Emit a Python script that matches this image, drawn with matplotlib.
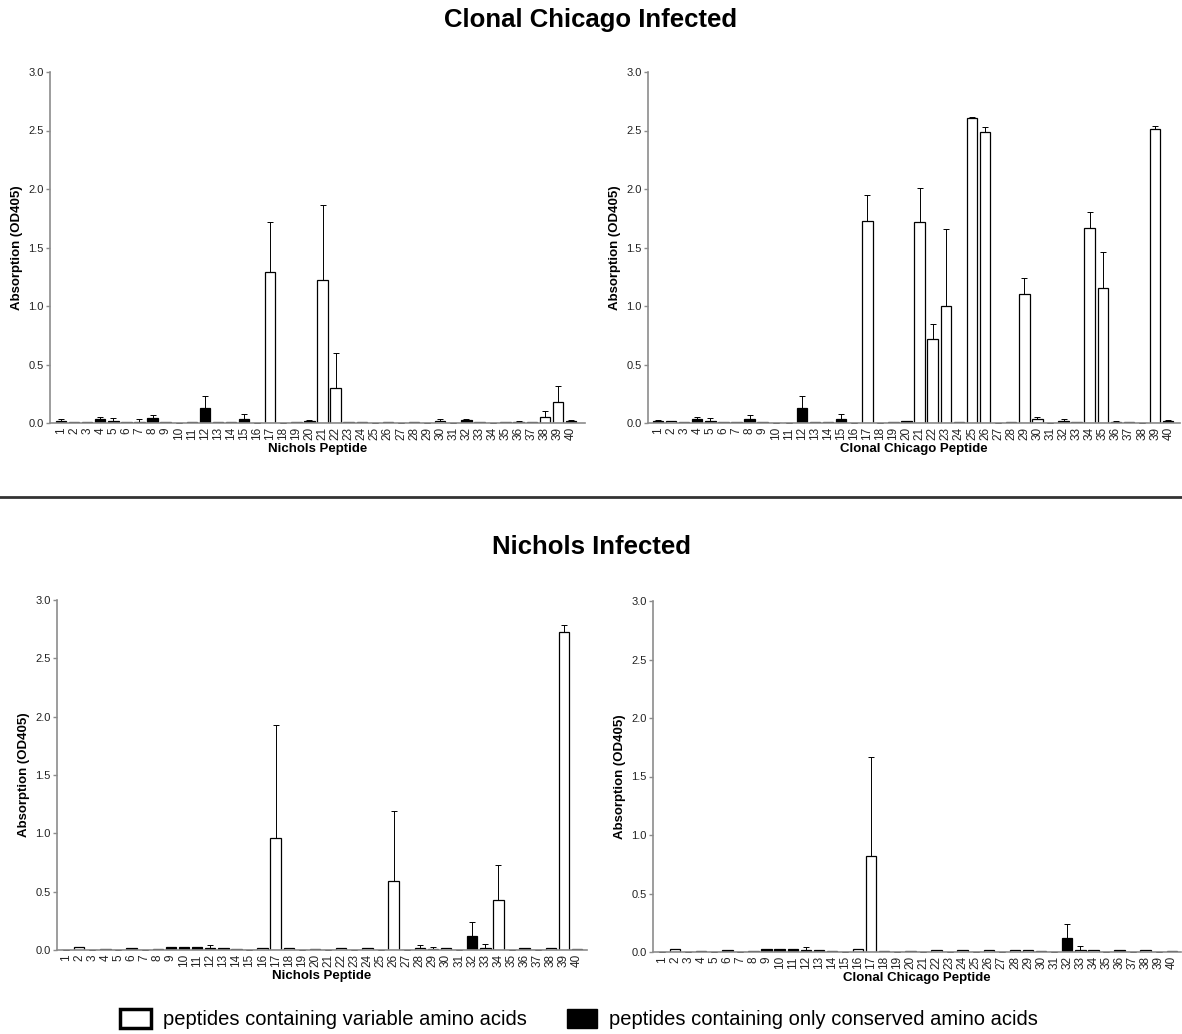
import numpy as np
import matplotlib
matplotlib.use("Agg")
from matplotlib import pyplot as plt
from matplotlib.patches import Patch
from matplotlib.lines import Line2D

plt.rcParams['font.family'] = ['Liberation Sans', 'DejaVu Sans']

peptides = list(range(1, 41))
# peptides containing only conserved amino acids -> black bars
conserved = [1, 3, 4, 5, 6, 8, 9, 10, 11, 12, 13, 14, 15, 19, 20, 32, 36, 37, 40]

# Clonal Chicago infected, Nichols peptides
cc_nic = [0.02, 0.005, 0.005, 0.03, 0.02, 0.01, 0.005, 0.04, 0.005, 0.003,
          0.005, 0.13, 0.01, 0.01, 0.035, 0.003, 1.29, 0.003, 0.01, 0.02,
          1.22, 0.30, 0.005, 0.005, 0.003, 0.005, 0.002, 0.008, 0.003, 0.015,
          0.003, 0.025, 0.008, 0.003, 0.008, 0.01, 0.01, 0.05, 0.18, 0.02]
cc_nic_err = [0.01, 0, 0, 0.02, 0.02, 0, 0.03, 0.03, 0, 0,
              0, 0.10, 0, 0, 0.04, 0, 0.43, 0, 0, 0.005,
              0.64, 0.30, 0.005, 0, 0, 0, 0, 0, 0, 0.015,
              0, 0.01, 0, 0, 0, 0.01, 0, 0.05, 0.14, 0.005]

# Clonal Chicago infected, Clonal Chicago peptides
cc_cc = [0.02, 0.015, 0.005, 0.03, 0.02, 0.008, 0.005, 0.035, 0.005, 0.002,
         0.0, 0.13, 0.01, 0.008, 0.035, 0.003, 1.73, 0.0, 0.008, 0.015,
         1.72, 0.72, 1.00, 0.008, 2.61, 2.49, 0.002, 0.008, 1.10, 0.03,
         0.003, 0.02, 0.008, 1.67, 1.15, 0.01, 0.008, 0.003, 2.51, 0.02]
cc_cc_err = [0.005, 0, 0, 0.02, 0.02, 0, 0, 0.03, 0, 0,
             0, 0.10, 0, 0, 0.04, 0, 0.22, 0, 0, 0.005,
             0.29, 0.13, 0.66, 0, 0.005, 0.04, 0, 0, 0.14, 0.02,
             0, 0.015, 0, 0.13, 0.31, 0.01, 0, 0, 0.03, 0.005]

# Nichols infected, Nichols peptides
nic_nic = [0, 0.03, 0, 0.01, 0, 0.02, 0, 0.01, 0.025, 0.025,
           0.025, 0.015, 0.015, 0.012, 0, 0.02, 0.96, 0.02, 0, 0.005,
           0, 0.02, 0, 0.015, 0, 0.59, 0, 0.02, 0.01, 0.015,
           0, 0.12, 0.02, 0.43, 0, 0.02, 0, 0.015, 2.73, 0.005]
nic_nic_err = [0, 0, 0, 0, 0, 0, 0, 0, 0, 0,
               0, 0.03, 0, 0, 0, 0, 0.97, 0, 0, 0.005,
               0, 0, 0, 0, 0, 0.60, 0, 0.02, 0.015, 0,
               0, 0.12, 0.03, 0.30, 0, 0, 0, 0, 0.06, 0]

# Nichols infected, Clonal Chicago peptides
nic_cc = [0, 0.025, 0, 0.01, 0, 0.02, 0, 0.01, 0.025, 0.025,
          0.025, 0.015, 0.015, 0.012, 0, 0.025, 0.82, 0.005, 0, 0.005,
          0, 0.02, 0, 0.015, 0, 0.015, 0, 0.015, 0.015, 0.012,
          0, 0.12, 0.02, 0.015, 0, 0.02, 0, 0.015, 0, 0.005]
nic_cc_err = [0, 0, 0, 0, 0, 0, 0, 0, 0, 0,
              0, 0.03, 0, 0, 0, 0, 0.85, 0, 0, 0.005,
              0, 0, 0, 0, 0, 0, 0, 0, 0, 0,
              0, 0.12, 0.03, 0, 0, 0, 0, 0, 0, 0]

W, H = 1182, 1034
fig = plt.figure(figsize=(W / 100, H / 100), dpi=100)


def px_axes(left, right, top, bottom):
    return fig.add_axes([left / W, 1 - bottom / H, (right - left) / W, (bottom - top) / H])


def draw_panel(ax, vals, errs, xlabel, xlim):
    colors = ['black' if p in conserved else 'white' for p in peptides]
    lower = np.zeros(len(vals))
    ax.bar(peptides, vals, width=0.8, color=colors, edgecolor='black', linewidth=0.9,
           yerr=[lower, errs], error_kw=dict(ecolor='black', elinewidth=0.7, capsize=2.5, capthick=0.7))
    ax.set_xlim(*xlim)
    ax.set_ylim(0, 3.0)
    ax.set_yticks(np.arange(0, 3.01, 0.5))
    ax.set_yticklabels([f"{v:.1f}" for v in np.arange(0, 3.01, 0.5)], fontsize=8)
    ax.set_xticks(peptides)
    ax.set_xticklabels([str(p) for p in peptides], rotation=90, fontsize=8.5)
    for s in ['top', 'right']:
        ax.spines[s].set_visible(False)
    for s in ['left', 'bottom']:
        ax.spines[s].set_color('#8c8c8c')
        ax.spines[s].set_linewidth(1.2)
    ax.tick_params(axis='both', colors='#8c8c8c', labelcolor='#222222', length=3, width=1, pad=1.5)
    ax.tick_params(axis='x', length=0, pad=3)
    ax.set_xlabel(xlabel, fontsize=9.5, fontweight='bold', labelpad=2)
    ax.set_ylabel("Absorption (OD405)", fontsize=9.5, fontweight='bold', labelpad=4)


ax1 = px_axes(50, 585, 72, 423)
draw_panel(ax1, cc_nic, cc_nic_err, "Nichols Peptide", (0.16, 41.07))
ax2 = px_axes(648, 1180, 72, 423)
draw_panel(ax2, cc_cc, cc_cc_err, "Clonal Chicago Peptide", (0.24, 40.9))
ax3 = px_axes(57, 587, 600, 950)
draw_panel(ax3, nic_nic, nic_nic_err, "Nichols Peptide", (0.31, 40.76))
ax4 = px_axes(653, 1181, 601, 952)
draw_panel(ax4, nic_cc, nic_cc_err, "Clonal Chicago Peptide", (0.31, 40.7))

fig.text(0.5, 1 - 20 / H, "Clonal Chicago Infected", ha='center', va='center',
         fontsize=18.5, fontweight='bold')
fig.text(0.5, 1 - 547 / H, "Nichols Infected", ha='center', va='center',
         fontsize=18.5, fontweight='bold')
fig.add_artist(Line2D([0, 1], [1 - 497 / H, 1 - 497 / H], color='#333333', linewidth=2))

handles = [Patch(facecolor='white', edgecolor='black', linewidth=2.5,
                 label='peptides containing variable amino acids'),
           Patch(facecolor='black', edgecolor='black',
                 label='peptides containing only conserved amino acids')]
fig.legend(handles=handles, loc='center', bbox_to_anchor=(0.49, 1 - 1019 / H), ncol=2,
           frameon=False, fontsize=14.5, handlelength=1.5, handleheight=1.1,
           columnspacing=2.0, handletextpad=0.6)

fig.savefig("out.png", dpi=100)
